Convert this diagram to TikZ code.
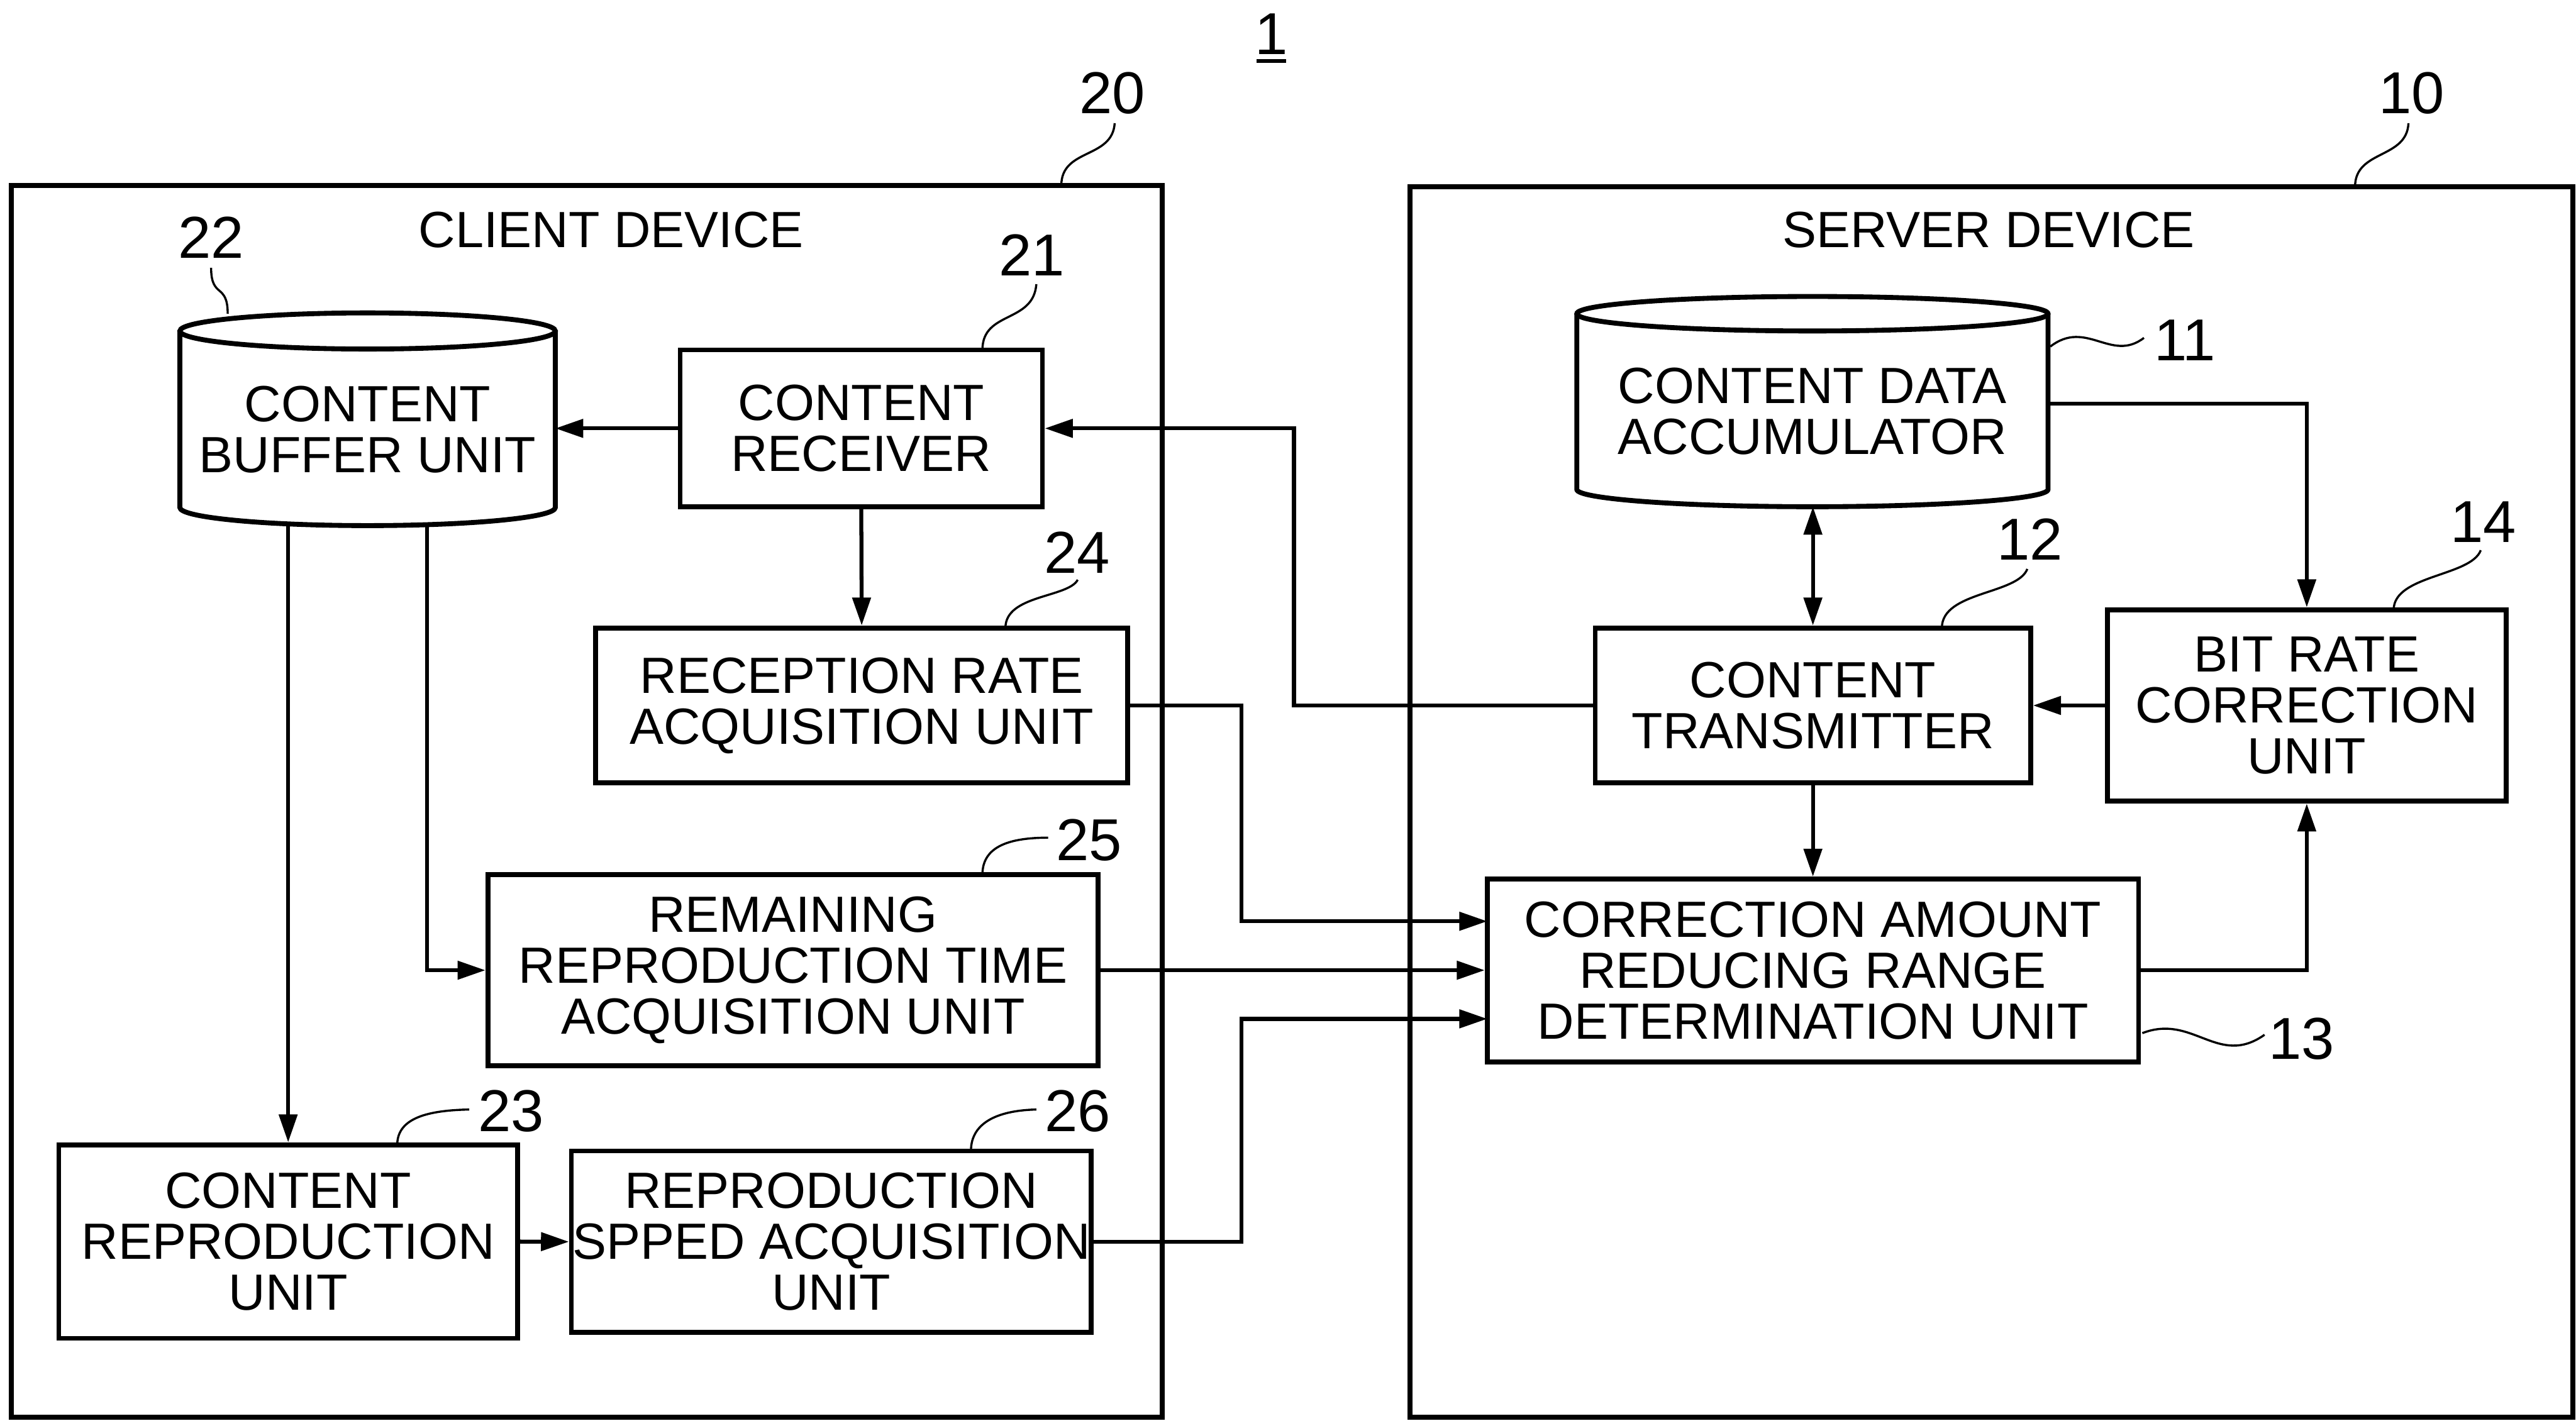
\documentclass[tikz,border=0pt]{standalone}
\usepackage{fontspec}
\setmainfont{Liberation Sans}
\usetikzlibrary{arrows.meta}
\begin{document}
\begin{tikzpicture}[x=1pt,y=-1pt,
  box/.style={draw, line width=3pt, inner sep=0pt, align=center, font=\fontsize{31}{31}\selectfont},
  dev/.style={draw, line width=3pt, inner sep=0pt},
  cyl/.style={line width=3pt},
  txt/.style={inner sep=0pt, align=center, font=\fontsize{31}{31}\selectfont},
  lbl/.style={inner sep=0pt, anchor=base, font=\fontsize{36}{36}\selectfont},
  conn/.style={line width=2.4pt, -{Triangle[length=17pt,width=11pt]}},
  dconn/.style={line width=2.4pt, {Triangle[length=17pt,width=11pt]}-{Triangle[length=17pt,width=11pt]}},
  lead/.style={line width=1.3pt},
]
\useasboundingbox (0,0) rectangle (1568,865);

% device frames
\node[dev, minimum width=700.3pt, minimum height=750pt] (client) at (357.15,488) {};
\node[dev, minimum width=707.8pt, minimum height=749.3pt] (server) at (1212.1,488.35) {};
\node[txt] (tclient) at (372,140) {CLIENT DEVICE};
\node[txt] (tserver) at (1210.5,140) {SERVER DEVICE};

% cylinder 22
\node[txt] (c22) at (223.75,261.5) {CONTENT\\BUFFER UNIT};
\draw[cyl] (109.5,201.5) -- (109.5,309) arc[start angle=180,end angle=360,x radius=114.25pt,y radius=11pt] -- (338,201.5);
\draw[cyl] (223.75,201.5) ellipse [x radius=114.25pt, y radius=11pt];
\coordinate (c22r) at (338,260.8);
\coordinate (c22b1) at (175.4,319);
\coordinate (c22b2) at (260,319.4);

% cylinder 11
\node[txt] (c11) at (1103.2,250.5) {CONTENT DATA\\ACCUMULATOR};
\draw[cyl] (959.8,191) -- (959.8,298) arc[start angle=180,end angle=360,x radius=143.4pt,y radius=10.5pt] -- (1246.6,191);
\draw[cyl] (1103.2,191) ellipse [x radius=143.4pt, y radius=10.5pt];
\coordinate (c11b) at (1103.5,308.5);
\coordinate (c11r) at (1246.6,245.7);

% client boxes
\node[box, minimum width=220.5pt, minimum height=95.6pt] (rcv) at (524.25,260.8) {CONTENT\\RECEIVER};
\node[box, minimum width=323.8pt, minimum height=94.4pt] (rra) at (524.5,429.5) {RECEPTION RATE\\ACQUISITION UNIT};
\node[box, minimum width=371.4pt, minimum height=116.6pt] (rrt) at (482.7,590.7) {REMAINING\\REPRODUCTION TIME\\ACQUISITION UNIT};
\node[box, minimum width=279.2pt, minimum height=117.8pt] (crp) at (175.4,755.9) {CONTENT\\REPRODUCTION\\UNIT};
\node[box, minimum width=316.4pt, minimum height=110.5pt] (rsa) at (506,756) {REPRODUCTION\\SPPED ACQUISITION\\UNIT};

% server boxes
\node[box, minimum width=265pt, minimum height=94.4pt] (ctx) at (1103.5,429.5) {CONTENT\\TRANSMITTER};
\node[box, minimum width=242.8pt, minimum height=116.5pt] (brc) at (1404.1,429.5) {BIT RATE\\CORRECTION\\UNIT};
\node[box, minimum width=396.5pt, minimum height=111.2pt] (cad) at (1103.5,590.8) {CORRECTION AMOUNT\\REDUCING RANGE\\DETERMINATION UNIT};

% routing coordinates
\coordinate (busA) at (787.6,0);
\coordinate (busB) at (755.6,0);
\coordinate (in1) at (905.3,560.9);
\coordinate (in3) at (905.3,620.3);

% connectors
\draw[conn] (rcv.west) -- (c22r);
\draw[conn] (ctx.west) -| (busA |- rcv.east) -- (rcv.east);
\draw[conn] (rcv.south) -- (rra.north);
\draw[conn] (c22b1) -- (crp.north);
\draw[conn] (c22b2) |- (rrt.west);
\draw[conn] (crp.east) -- (rsa.west);
\draw[conn] (rra.east) -| (busB |- in1) -- (in1);
\draw[conn] (rrt.east) -- (rrt.east -| cad.west);
\draw[conn] (rsa.east) -| (busB |- in3) -- (in3);
\draw[dconn] (c11b) -- (ctx.north);
\draw[conn] (c11r) -| (brc.north);
\draw[conn] (brc.west) -- (ctx.east);
\draw[conn] (ctx.south) -- (cad.north);
\draw[conn] (cad.east) -| (brc.south);

% reference labels
\node[lbl] (n1) at (774,33) {\makebox[0pt][l]{\hspace{1pt}\rule[-5.2pt]{18pt}{2.4pt}}1};
\node[lbl] (n20) at (677,69) {20};
\node[lbl] (n10) at (1468,69) {10};
\node[lbl] (n22) at (128.5,157) {22};
\node[lbl] (n21) at (628,168) {21};
\node[lbl] (n24) at (655.5,349) {24};
\node[lbl] (n25) at (663,523.7) {25};
\node[lbl] (n26) at (656,689) {26};
\node[lbl] (n23) at (311,689) {23};
\node[lbl] (n11) at (1330,219.5) {11};
\node[lbl] (n12) at (1235.5,341) {12};
\node[lbl] (n14) at (1511.5,330) {14};
\node[lbl] (n13) at (1401,645) {13};

% leaders
\coordinate (s20) at (678.5,75);   \coordinate (e20) at (646,113);
\coordinate (s10) at (1466,75);    \coordinate (e10) at (1433.5,113.7);
\coordinate (s22) at (128.5,163);  \coordinate (e22) at (138.6,191);
\coordinate (s21) at (630.8,173);  \coordinate (e21) at (598,213);
\coordinate (s24) at (656,353);    \coordinate (e24) at (612,382.3);
\coordinate (s12) at (1234,346.4); \coordinate (e12) at (1182,382.3);
\coordinate (s14) at (1510,335);   \coordinate (e14) at (1457,371.3);
\coordinate (s25) at (638,510);    \coordinate (e25) at (598,532.4);
\coordinate (s26) at (630.8,675.5);\coordinate (e26) at (591,700.8);
\coordinate (s23) at (285.6,675.5);\coordinate (e23) at (241.8,697);
\coordinate (s11) at (1248,211);   \coordinate (e11) at (1305,205.7);
\coordinate (s13) at (1304,629);   \coordinate (e13) at (1378.4,630);

\draw[lead] (s20) .. controls (677,97) and (646,90) .. (e20);
\draw[lead] (s10) .. controls (1465,97) and (1433.5,91) .. (e10);
\draw[lead] (s22) .. controls (128.5,182) and (138.6,172) .. (e22);
\draw[lead] (s21) .. controls (629,197) and (598,189) .. (e21);
\draw[lead] (s24) .. controls (650,364) and (612,362) .. (e24);
\draw[lead] (s12) .. controls (1228,362) and (1182,360) .. (e12);
\draw[lead] (s14) .. controls (1504,351) and (1457,350) .. (e14);
\draw[lead] (s25) .. controls (615,510) and (598,515) .. (e25);
\draw[lead] (s26) .. controls (610,676) and (591,682) .. (e26);
\draw[lead] (s23) .. controls (262,676) and (241.8,680) .. (e23);
\draw[lead] (s11) .. controls (1270,194) and (1285,221) .. (e11);
\draw[lead] (s13) .. controls (1335,617) and (1350,650) .. (e13);
\end{tikzpicture}
\end{document}
